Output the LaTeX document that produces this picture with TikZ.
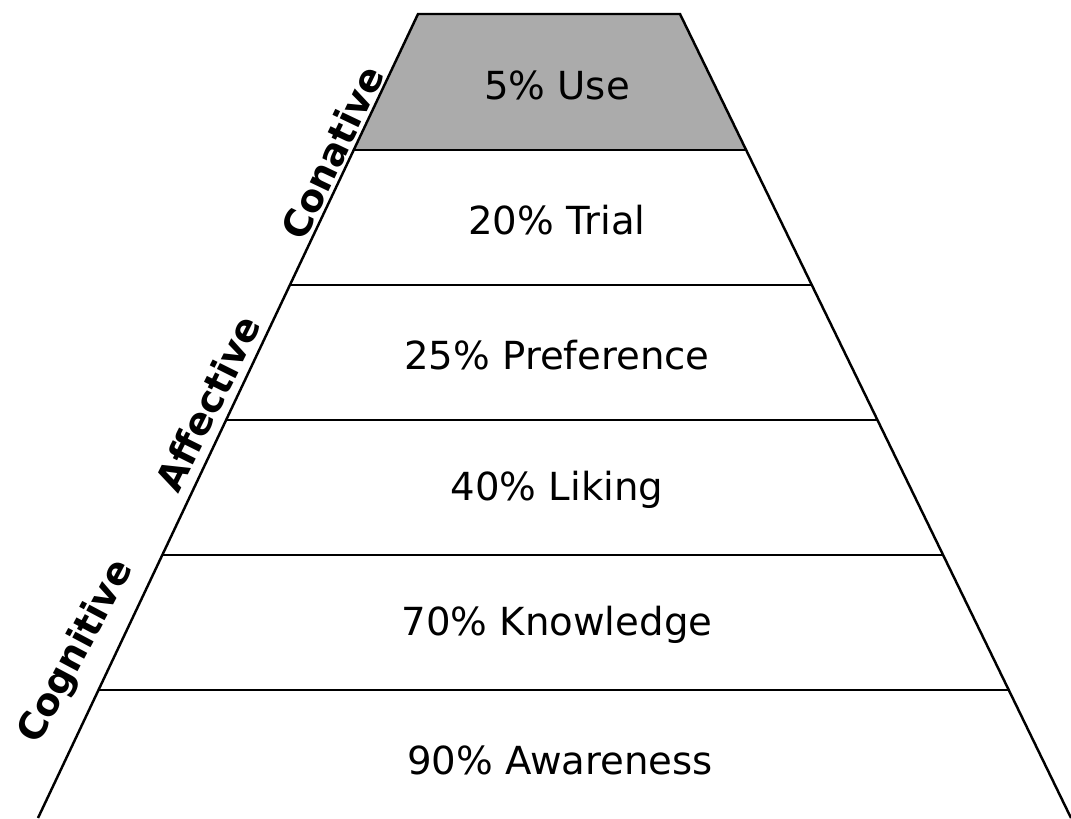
\documentclass[tikz,border=0pt]{standalone}
\usepackage{fontspec}
\setmainfont{DejaVu Sans}
\usepackage{tikz}
\usetikzlibrary{calc}

\begin{document}
\begin{tikzpicture}[x=0.02cm,y=-0.02cm]
        \useasboundingbox (0,0) rectangle (1071,818);
        \tikzset{level/.style={font=\fontsize{22}{26}\selectfont},
                 side/.style={font=\bfseries\fontsize{21.5}{24}\selectfont,
                              anchor=south, inner sep=2pt}}

        % Corners of the pyramid.
        \coordinate (tl) at (418,14);
        \coordinate (tr) at (680,14);
        \coordinate (bl) at (38,818);
        \coordinate (br) at (1071,818);

        % Shaded top level.
        \fill[black!33] (tl) -- (tr) -- ($(tr)!0.169!(br)$) -- ($(tl)!0.169!(bl)$) -- cycle;

        % Outline and level lines.
        \draw[line width=1.4pt] (bl) -- (tl) -- (tr) -- (br);
        \foreach \t in {0.169,0.337,0.505,0.673,0.841}
            \draw[line width=1.4pt] ($(tl)!\t!(bl)$) -- ($(tr)!\t!(br)$);

        % Levels.
        \node[level] (use) at (557,85) {5\% Use};
        \node[level] (trial) at (557,220) {20\% Trial};
        \node[level] (pref) at (557,355) {25\% Preference};
        \node[level] (liking) at (557,490) {40\% Liking};
        \node[level] (know) at (557,625) {70\% Knowledge};
        \node[level] (aware) at (560,760) {90\% Awareness};

        % Stages along the side.
        \node[side, rotate=64.5] (conative) at ($(tl)!0.182!(bl)$) {Conative};
        \node[side, rotate=63.5] (affective) at ($(tl)!0.497!(bl) + (-5,-2)$) {Affective};
        \node[side, rotate=62] (cognitive) at ($(tl)!0.814!(bl) + (-12,-6)$) {Cognitive};
\end{tikzpicture}
\end{document}
